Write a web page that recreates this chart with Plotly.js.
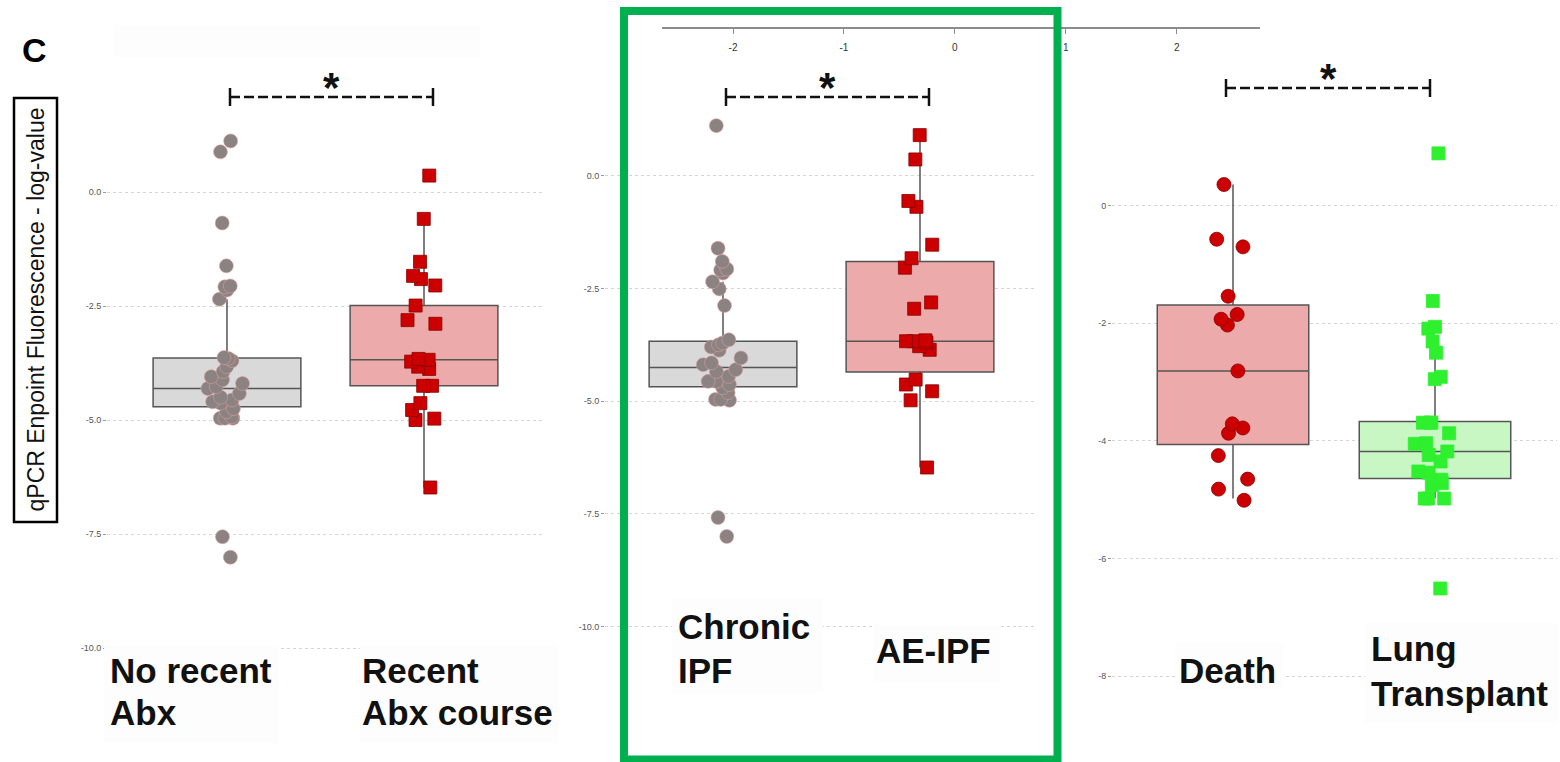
<!DOCTYPE html>
<html>
<head>
<meta charset="utf-8">
<script src="https://cdn.plot.ly/plotly-3.0.1.min.js"></script>
<style>
  html, body { margin: 0; padding: 0; background: #ffffff; }
  #chart { width: 1560px; height: 762px; }
</style>
</head>
<body>
<div id="chart"></div>
<script>
// ---- Data: qPCR endpoint fluorescence (log-value) per patient group ----
const catsAbx = ['No recent Abx', 'Recent Abx course'];
const catsIPF = ['Chronic IPF', 'AE-IPF'];
const catsOutcome = ['Death', 'Lung Transplant'];

const noRecentAbx = [1.12, 0.88, -0.68, -1.62, -2.06, -2.08, -2.15, -2.35,
  -3.63, -3.65, -3.70, -3.83, -3.94, -4.05, -4.12, -4.20, -4.27, -4.31, -4.42,
  -4.50, -4.56, -4.60, -4.63, -4.75, -4.82, -4.93, -4.96, -4.96, -4.96, -7.56, -8.01];
const recentAbx = [0.36, -0.59, -1.53, -1.84, -1.91, -2.05, -2.49, -2.81, -2.89,
  -3.66, -3.68, -3.72, -3.83, -3.88, -4.25, -4.25, -4.63, -4.78, -4.97, -5.00, -6.48];

const chronicIPF = [1.11, -1.61, -1.90, -2.07, -2.09, -2.16, -2.35, -2.51, -2.88,
  -3.64, -3.71, -3.75, -3.80, -3.87, -4.04, -4.15, -4.19, -4.30, -4.34, -4.45,
  -4.56, -4.56, -4.63, -4.70, -4.81, -4.96, -4.98, -4.96, -7.58, -8.00];
const aeIPF = [0.90, 0.36, -0.56, -0.69, -1.53, -1.83, -2.04, -2.81, -2.95,
  -3.65, -3.67, -3.67, -3.70, -3.78, -3.86, -4.52, -4.63, -4.78, -4.98, -6.47];

const death = [0.36, -0.57, -0.70, -1.54, -1.85, -1.93, -2.03, -2.81,
  -3.71, -3.78, -3.87, -4.25, -4.65, -4.82, -5.01];
const lungTransplant = [0.89, -1.62, -2.06, -2.09, -2.31, -2.50, -2.91, -2.95,
  -3.69, -3.69, -3.69, -3.87, -4.04, -4.05, -4.18, -4.24, -4.35, -4.52, -4.54,
  -4.66, -4.69, -4.72, -4.75, -4.98, -4.98, -4.98, -6.51];

// Box summaries: [lower whisker, Q1, median, Q3, upper whisker]
const boxNoRecentAbx = [-4.96, -4.71, -4.31, -3.64, -2.35];
const boxRecentAbx = [-6.48, -4.25, -3.68, -2.49, -0.59];
const boxChronicIPF = [-4.96, -4.68, -4.25, -3.67, -2.35];
const boxAeIPF = [-6.47, -4.35, -3.67, -1.90, 0.88];
const boxDeath = [-4.98, -4.06, -2.81, -1.69, 0.36];
const boxLungTransplant = [-4.98, -4.64, -4.18, -3.67, -2.31];

// Axis tick values
const ticksPanelA = [0, -2.5, -5, -7.5, -10];
const tickTextPanelA = ['0.0', '-2.5', '-5.0', '-7.5', '-10.0'];
const ticksPanelC = [0, -2, -4, -6, -8];
const tickTextPanelC = ['0', '-2', '-4', '-6', '-8'];
const topAxisTicks = [-2, -1, 0, 1, 2];
const topAxisText = ['-2', '-1', '0', '1', '2'];

// ---- Page geometry helpers (pixel -> paper fraction) ----
const W = 1560, H = 762;
const fx = p => p / W;
const fy = p => 1 - p / H;

const FONT = '"Liberation Sans", Arial, Helvetica, sans-serif';

const grey = { pt: '#8b8282', ptLine: 'rgba(225,160,160,0.7)', fill: '#d9d9d9' };
const red = { pt: '#cc0000', ptLine: '#8a0000', fill: '#edaaaa' };
const green = { pt: '#2ef02e', ptLine: '#2ef02e', fill: '#c9f7c4' };

function summaryBox(stats, pos, fill, xa, ya) {
  return {
    type: 'box', xaxis: xa, yaxis: ya, orientation: 'v',
    x: [pos], lowerfence: [stats[0]], q1: [stats[1]], median: [stats[2]],
    q3: [stats[3]], upperfence: [stats[4]],
    width: 0.75, whiskerwidth: 0, boxpoints: false,
    fillcolor: fill, line: { color: '#555555', width: 1.5 },
    hoverinfo: 'skip', showlegend: false
  };
}

function pointCloud(values, pos, colors, symbol, size, xa, ya) {
  return {
    type: 'box', xaxis: xa, yaxis: ya, orientation: 'v',
    y: values, x0: pos, width: 0.75,
    boxpoints: 'all', jitter: 0.3, pointpos: 0,
    fillcolor: 'rgba(0,0,0,0)', line: { color: 'rgba(0,0,0,0)', width: 0 },
    marker: { color: colors.pt, symbol: symbol, size: size,
              line: { color: colors.ptLine, width: 0.8 } },
    hoverinfo: 'skip', showlegend: false
  };
}

const traces = [
  summaryBox(boxNoRecentAbx, 0, grey.fill, 'x', 'y'),
  summaryBox(boxRecentAbx, 1, red.fill, 'x', 'y'),
  pointCloud(noRecentAbx, 0, grey, 'circle', 14, 'x', 'y'),
  pointCloud(recentAbx, 1, red, 'square', 13, 'x', 'y'),

  summaryBox(boxChronicIPF, 0, grey.fill, 'x2', 'y2'),
  summaryBox(boxAeIPF, 1, red.fill, 'x2', 'y2'),
  pointCloud(chronicIPF, 0, grey, 'circle', 14, 'x2', 'y2'),
  pointCloud(aeIPF, 1, red, 'square', 13, 'x2', 'y2'),

  summaryBox(boxDeath, 0, red.fill, 'x3', 'y3'),
  summaryBox(boxLungTransplant, 1, green.fill, 'x3', 'y3'),
  pointCloud(death, 0, red, 'circle', 14, 'x3', 'y3'),
  pointCloud(lungTransplant, 1, green, 'square', 13, 'x3', 'y3'),

  // carrier for the free-floating numeric axis above the middle panel
  { type: 'scatter', mode: 'markers', x: topAxisTicks, y: topAxisTicks.map(() => 0),
    xaxis: 'x4', yaxis: 'y4', marker: { opacity: 0 }, hoverinfo: 'skip', showlegend: false }
];

function catAxis(domainPx, range) {
  return { domain: [fx(domainPx[0]), fx(domainPx[1])], range: range, type: 'linear',
           showticklabels: false, showgrid: false, zeroline: false, showline: false,
           ticks: '', fixedrange: true };
}
function valAxis(anchor, domainPx, range, tv, tt) {
  return { anchor: anchor, domain: [fy(domainPx[1]), fy(domainPx[0])], range: range,
           tickvals: tv, ticktext: tt, ticks: 'outside', ticklen: 3, tickcolor: '#9a9a9a',
           tickfont: { size: 9, color: '#555555', family: FONT },
           showgrid: true, gridcolor: '#d4d4d4', griddash: 'dot', gridwidth: 1,
           zeroline: false, showline: false, fixedrange: true };
}

// pixel positions of the panel frames -> axis ranges keep values on their ticks
const panelA = { top: 110, bottom: 652, zeroPx: 192, pxPerUnit: 45.6 };
const panelB = { top: 110, bottom: 632, zeroPx: 175.7, pxPerUnit: 45.1 };
const panelC = { top: 140, bottom: 690, zeroPx: 205.7, pxPerUnit: 58.8 };
const rangeOf = p => [(p.zeroPx - p.bottom) / p.pxPerUnit, (p.zeroPx - p.top) / p.pxPerUnit];

const shapes = [];
const annotations = [];

function note(text, xPx, yPx, font, extra) {
  annotations.push(Object.assign({ xref: 'paper', yref: 'paper', x: fx(xPx), y: fy(yPx),
    xanchor: 'center', yanchor: 'middle', text: text, showarrow: false, font: font }, extra || {}));
}

// faint backing panels behind the pasted group labels
[[104, 645, 279, 743], [360, 645, 558, 743], [672, 598, 823, 693],
 [873, 625, 1000, 683], [1175, 643, 1283, 690], [1365, 623, 1558, 723], [114, 25, 480, 57]]
  .forEach(r => shapes.push({ type: 'rect', xref: 'paper', yref: 'paper',
    x0: fx(r[0]), x1: fx(r[2]), y0: fy(r[3]), y1: fy(r[1]),
    fillcolor: '#fdfdfd', line: { width: 0 }, layer: 'above' }));

// significance brackets
function bracket(x0, x1, y, asteriskY) {
  shapes.push({ type: 'line', xref: 'paper', yref: 'paper', x0: fx(x0), x1: fx(x1), y0: fy(y), y1: fy(y),
                line: { color: '#111', width: 2.5, dash: '10px,4px' } });
  [x0, x1].forEach(x => shapes.push({ type: 'line', xref: 'paper', yref: 'paper',
    x0: fx(x), x1: fx(x), y0: fy(y - 9), y1: fy(y + 9), line: { color: '#111', width: 2.5 } }));
  note('<b>*</b>', (x0 + x1) / 2, asteriskY, { size: 42, color: '#111', family: FONT });
}
bracket(230, 433, 97, 87);
bracket(726, 929, 97, 87);
bracket(1226, 1430, 88, 78);

// y-axis title in its box
shapes.push({ type: 'rect', xref: 'paper', yref: 'paper', x0: fx(14), x1: fx(57), y0: fy(522), y1: fy(98),
              line: { color: '#000', width: 2.5 }, fillcolor: 'rgba(0,0,0,0)' });
note('qPCR Enpoint Fluorescence - log-value', 35.5, 310, { size: 23, color: '#111', family: FONT },
     { textangle: -90 });

// panel letter
note('<b>C</b>', 34, 50, { size: 34, color: '#000', family: FONT });

// group labels, one line each
function label(text, leftPx, centerYPx) {
  annotations.push({ xref: 'paper', yref: 'paper', x: fx(leftPx), y: fy(centerYPx),
    xanchor: 'left', yanchor: 'middle', text: '<b>' + text + '</b>', showarrow: false,
    font: { size: 35, color: '#111', family: FONT } });
}
label('No recent', 108, 670); label('Abx', 108, 712);
label('Recent', 360, 670); label('Abx course', 360, 712);
label('Chronic', 676, 626); label('IPF', 676, 670);
label('AE-IPF', 874, 650);
label('Death', 1177, 670);
label('Lung', 1369, 648); label('Transplant', 1369, 693);

// green highlight frame around the middle panel
shapes.push({ type: 'rect', xref: 'paper', yref: 'paper', x0: fx(624), x1: fx(1057.5), y0: fy(759.5), y1: fy(11),
              line: { color: '#00b050', width: 8 }, fillcolor: 'rgba(0,0,0,0)', layer: 'above' });

const layout = {
  width: W, height: H,
  margin: { l: 0, r: 0, t: 0, b: 0 },
  paper_bgcolor: '#ffffff', plot_bgcolor: 'rgba(0,0,0,0)',
  showlegend: false, boxmode: 'overlay',
  font: { family: FONT },
  xaxis: Object.assign(catAxis([107, 543], [-0.609, 1.604]), { anchor: 'y' }),
  yaxis: valAxis('x', [panelA.top, panelA.bottom], rangeOf(panelA), ticksPanelA, tickTextPanelA),
  xaxis2: Object.assign(catAxis([605, 1037], [-0.599, 1.594]), { anchor: 'y2' }),
  yaxis2: valAxis('x2', [panelB.top, panelB.bottom], rangeOf(panelB), ticksPanelA, tickTextPanelA),
  xaxis3: Object.assign(catAxis([1112, 1557], [-0.599, 1.604]), { anchor: 'y3' }),
  yaxis3: valAxis('x3', [panelC.top, panelC.bottom], rangeOf(panelC), ticksPanelC, tickTextPanelC),
  xaxis4: { domain: [fx(662), fx(1260)], range: [-2.64, 2.75], anchor: 'free', position: fy(28),
            side: 'bottom', showline: true, linecolor: '#8c8c8c', linewidth: 2,
            ticks: 'outside', ticklen: 5, tickcolor: '#8c8c8c', tickwidth: 1,
            ticklabelstandoff: 5,
            tickvals: topAxisTicks, ticktext: topAxisText,
            tickfont: { size: 10, color: '#333', family: FONT },
            showgrid: false, zeroline: false, fixedrange: true },
  yaxis4: { domain: [0.97, 1], visible: false, showgrid: false, zeroline: false, anchor: 'x4', fixedrange: true },
  shapes: shapes,
  annotations: annotations
};

Plotly.newPlot('chart', traces, layout, { staticPlot: true, displayModeBar: false });
</script>
</body>
</html>
